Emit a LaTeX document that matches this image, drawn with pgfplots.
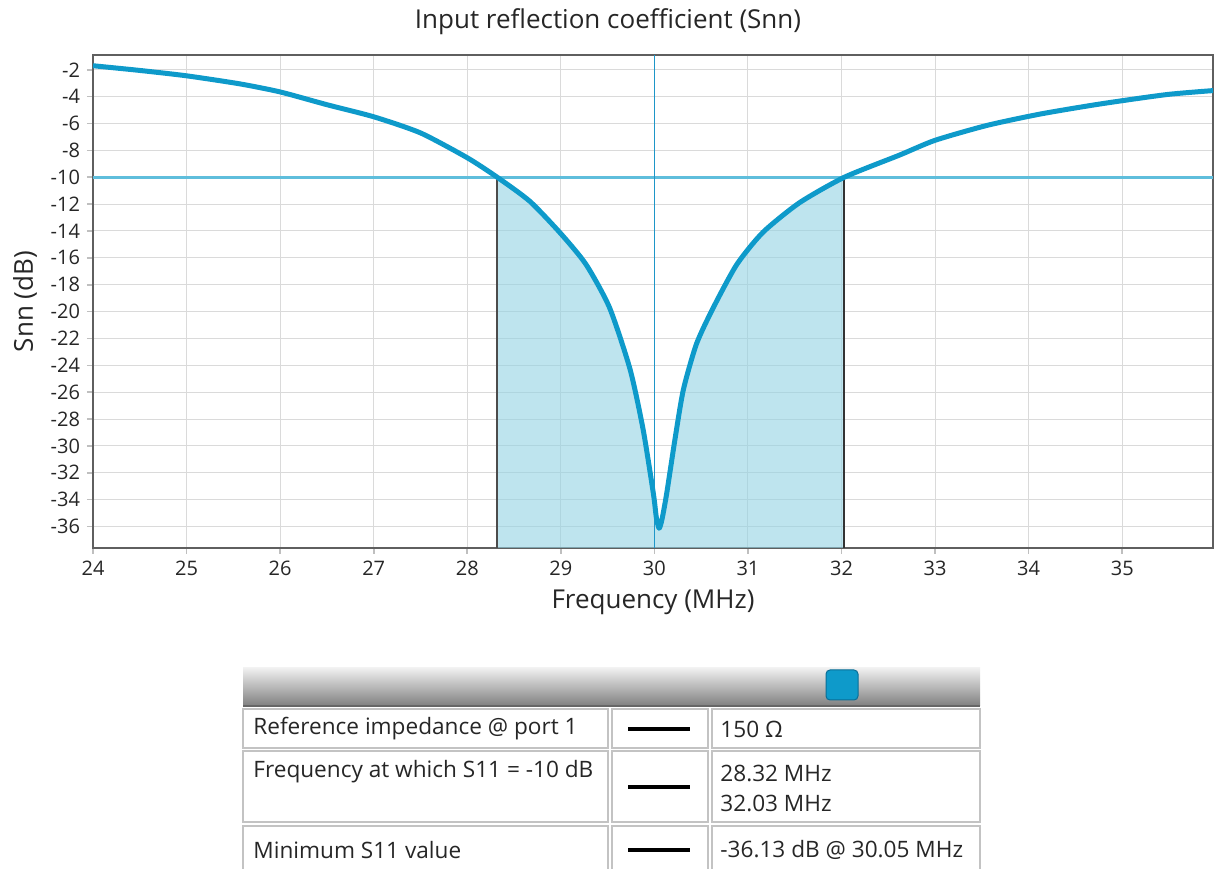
\documentclass[border=0pt]{standalone}
\usepackage{fontspec}
\setmainfont{Open Sans}
\usepackage{pgfplots}
\usepackage{pgfplotstable}
\pgfplotsset{compat=1.18}

\definecolor{curveblue}{RGB}{14,154,202}
\definecolor{refblue}{RGB}{95,190,220}
\definecolor{minblue}{RGB}{30,150,200}
\definecolor{bandfill}{RGB}{147,210,227}
\definecolor{framegray}{RGB}{95,95,95}
\definecolor{gridgray}{RGB}{218,218,218}
\definecolor{cellgray}{RGB}{195,195,195}

% S11 magnitude (dB) versus frequency (MHz)
\pgfplotstableread{
f      s
24.00  -1.70
24.50  -2.05
25.00  -2.45
25.57  -3.05
26.00  -3.65
26.50  -4.60
27.00  -5.50
27.50  -6.70
28.00  -8.55
28.32  -10.00
28.67  -11.80
29.00  -14.20
29.27  -16.50
29.52  -19.70
29.74  -24.30
29.88  -28.80
29.99  -33.60
30.02  -35.30
30.05  -36.13
30.08  -35.50
30.13  -33.60
30.22  -29.50
30.31  -25.80
30.45  -22.40
30.63  -19.70
30.88  -16.50
31.16  -14.10
31.55  -11.90
32.03  -10.00
32.62  -8.35
33.00  -7.25
33.55  -6.15
34.12  -5.30
34.76  -4.55
35.47  -3.85
35.97  -3.55
}\snn

\begin{document}
\begin{tikzpicture}
\useasboundingbox (0pt,0pt) rectangle (608pt,434pt);

\node[font=\fontsize{13}{15}\selectfont, text=black!85] at (304pt,423pt) {Input reflection coefficient (Snn)};

\begin{axis}[
  at={(46.5pt,160pt)}, anchor=south west,
  scale only axis, width=560pt, height=246.5pt,
  xmin=24, xmax=35.97, ymin=-37.6, ymax=-0.9,
  xtick={24,...,35}, ytick={-36,-34,...,-2},
  tick pos=left, tick align=outside,
  major tick length=3pt,
  tick style={draw=black!25, line width=0.8pt},
  grid=major,
  major grid style={draw=gridgray, line width=0.5pt},
  axis line style={draw=framegray, line width=1.3pt},
  /pgf/number format/assume math mode=true,
  ticklabel style={font=\fontsize{10}{12}\selectfont, text=black!85},
  xlabel={Frequency (MHz)}, ylabel={Snn (dB)},
  xlabel style={font=\fontsize{13}{15}\selectfont, text=black!85},
  ylabel style={font=\fontsize{13}{15}\selectfont, text=black!85},
]
% area under the curve inside the -10 dB band
\addplot[fill=bandfill, fill opacity=0.6, draw=none, smooth, tension=0.4,
  restrict x to domain=28.32:32.03]
  table[x=f,y=s] {\snn} |- (axis cs:28.32,-37.6) -- cycle;

% -10 dB band edges
\addplot[black!70, line width=1.2pt] coordinates {(28.32,-10) (28.32,-37.6)};
\addplot[black!80, line width=0.9pt] coordinates {(32.03,-10) (32.03,-37.6)};
% -10 dB reference level
\addplot[refblue, line width=1.3pt] coordinates {(24,-10) (35.97,-10)};
% centre-frequency marker
\addplot[minblue, line width=0.6pt] coordinates {(30,-0.9) (30,-37.6)};
% S11 curve
\addplot[curveblue, line width=2.5pt, smooth, tension=0.4, line join=round] table[x=f,y=s] {\snn};
\end{axis}

% slider bar above the summary table
\shade[top color=black!6, bottom color=black!50] (121.5pt,81pt) rectangle (490pt,100pt);
\draw[black!60, line width=0.8pt] (121.5pt,81pt) -- (490pt,81pt);
\draw[rounded corners=2pt, fill=curveblue, draw={rgb,255:red,10;green,110;blue,150}, line width=0.5pt] (413pt,84pt) rectangle (429pt,99pt);

% summary table cells
\tikzset{cell/.style={draw=cellgray, line width=1pt}}
\foreach \ya/\yb in {60/79.5, 23/58.5, -2/21}{
  \draw[cell] (121.5pt,\ya pt) rectangle (304pt,\yb pt);
  \draw[cell] (306pt,\ya pt) rectangle (354pt,\yb pt);
  \draw[cell] (356pt,\ya pt) rectangle (490pt,\yb pt);
}
\foreach \y in {69.5,40.5,9}{
  \draw[black, line width=1.8pt] (314pt,\y pt) -- (345pt,\y pt);
}
\tikzset{tt/.style={font=\fontsize{11.3}{13}\selectfont, text=black!85, anchor=west, inner sep=0pt}}
\node[tt] at (126.5pt,69.5pt) {Reference impedance @ port 1};
\node[tt] at (126.5pt,48pt) {Frequency at which S11 = -10 dB};
\node[tt] at (126.5pt,9pt) {Minimum S11 value};
\node[tt] at (360pt,69.5pt) {150 Ω};
\node[tt] at (360pt,47.5pt) {28.32 MHz};
\node[tt] at (360pt,32.5pt) {32.03 MHz};
\node[tt] at (360pt,9pt) {-36.13 dB @ 30.05 MHz};
\end{tikzpicture}
\end{document}
